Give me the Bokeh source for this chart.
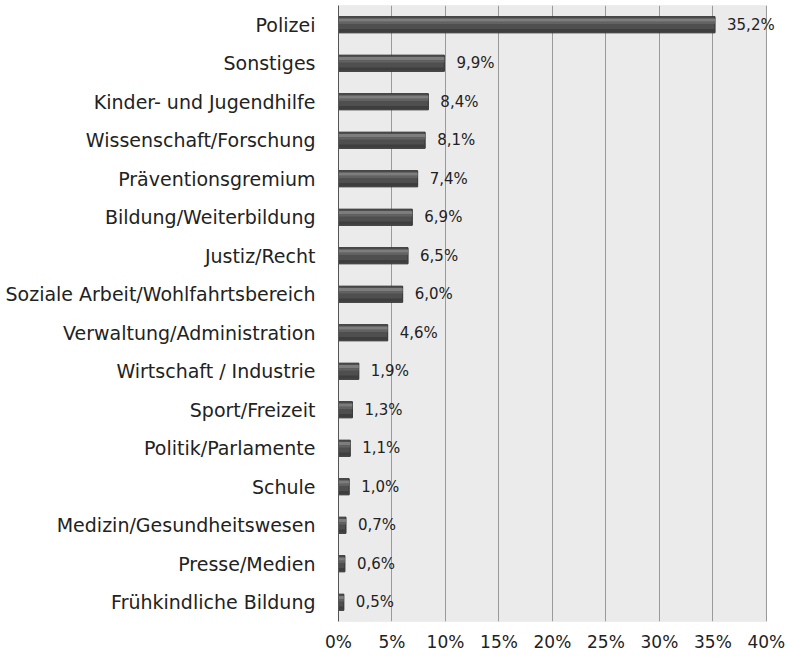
from bokeh.plotting import figure
from bokeh.models import (FactorRange, FixedTicker, PrintfTickFormatter, ColumnDataSource,
                          LabelSet, BoxAnnotation, Range1d)
from bokeh.core.properties import value
from bokeh.transform import dodge
from bokeh.embed import file_html
from bokeh.resources import INLINE

categories = ["Polizei", "Sonstiges", "Kinder- und Jugendhilfe", "Wissenschaft/Forschung",
              "Präventionsgremium", "Bildung/Weiterbildung", "Justiz/Recht",
              "Soziale Arbeit/Wohlfahrtsbereich", "Verwaltung/Administration",
              "Wirtschaft / Industrie", "Sport/Freizeit", "Politik/Parlamente", "Schule",
              "Medizin/Gesundheitswesen", "Presse/Medien", "Frühkindliche Bildung"]
values = [35.2, 9.9, 8.4, 8.1, 7.4, 6.9, 6.5, 6.0, 4.6, 1.9, 1.3, 1.1, 1.0, 0.7, 0.6, 0.5]
ticks = [0, 5, 10, 15, 20, 25, 30, 35, 40]

labels = [f"{v:.1f}".replace(".", ",") + "%" for v in values]
src = ColumnDataSource(dict(cat=categories, val=values, lab=labels))

FONT = "DejaVu Sans"

# frame extends a little past 40% so the top data label is not clipped;
# the grey plot area is drawn only from 0% to 40%.
x_end = ticks[-1] * 1.047

p = figure(width=786, height=654, output_backend="svg", toolbar_location=None,
           y_range=FactorRange(factors=list(reversed(categories)), range_padding=0),
           x_range=Range1d(ticks[0], x_end))
p.min_border_left = 338
p.min_border_right = 0
p.min_border_top = 5
p.min_border_bottom = 27

p.background_fill_color = "white"
p.border_fill_color = "white"
p.outline_line_color = None

area = BoxAnnotation(left=ticks[0], right=ticks[-1], fill_color="#ebebeb", fill_alpha=1,
                     line_color="#a8a8a8", line_width=1, level="image")
p.add_layout(area)

# base bar
p.hbar(y="cat", right="val", left=0, height=0.42, source=src,
       fill_color="#4f4f4f", line_color="#303030", line_width=1)
# highlight bands
p.hbar(y=dodge("cat", 0.12, range=p.y_range), right="val", left=0, height=0.09, source=src,
       fill_color="#7d7d7d", line_color=None)
p.hbar(y=dodge("cat", 0.05, range=p.y_range), right="val", left=0, height=0.06, source=src,
       fill_color="#626262", line_color=None)
# darker bottom
p.hbar(y=dodge("cat", -0.15, range=p.y_range), right="val", left=0, height=0.08, source=src,
       fill_color="#3e3e3e", line_color=None)

lbl = LabelSet(x="val", y="cat", text="lab", source=src, x_offset=12, y_offset=0,
               text_font=value(FONT), text_font_size="15px", text_color="#222222",
               text_baseline="middle", text_align="left")
p.add_layout(lbl)

p.xaxis.ticker = FixedTicker(ticks=ticks)
p.xaxis.formatter = PrintfTickFormatter(format="%d%%")
p.xaxis.axis_line_color = None
p.xaxis.major_tick_line_color = None
p.xaxis.minor_tick_line_color = None
p.xaxis.major_label_text_font = FONT
p.xaxis.major_label_text_font_size = "17px"
p.xaxis.major_label_text_color = "#222222"
p.xaxis.major_label_standoff = 4

p.yaxis.axis_line_color = "#555555"
p.yaxis.major_tick_line_color = None
p.yaxis.minor_tick_line_color = None
p.yaxis.major_label_text_font = FONT
p.yaxis.major_label_text_font_size = "19px"
p.yaxis.major_label_text_color = "#222222"
p.yaxis.major_label_standoff = 17

p.xgrid.grid_line_color = "#9a9a9a"
p.xgrid.grid_line_width = 1
p.ygrid.grid_line_color = None

open("out.html", "w").write(file_html(p, INLINE))
